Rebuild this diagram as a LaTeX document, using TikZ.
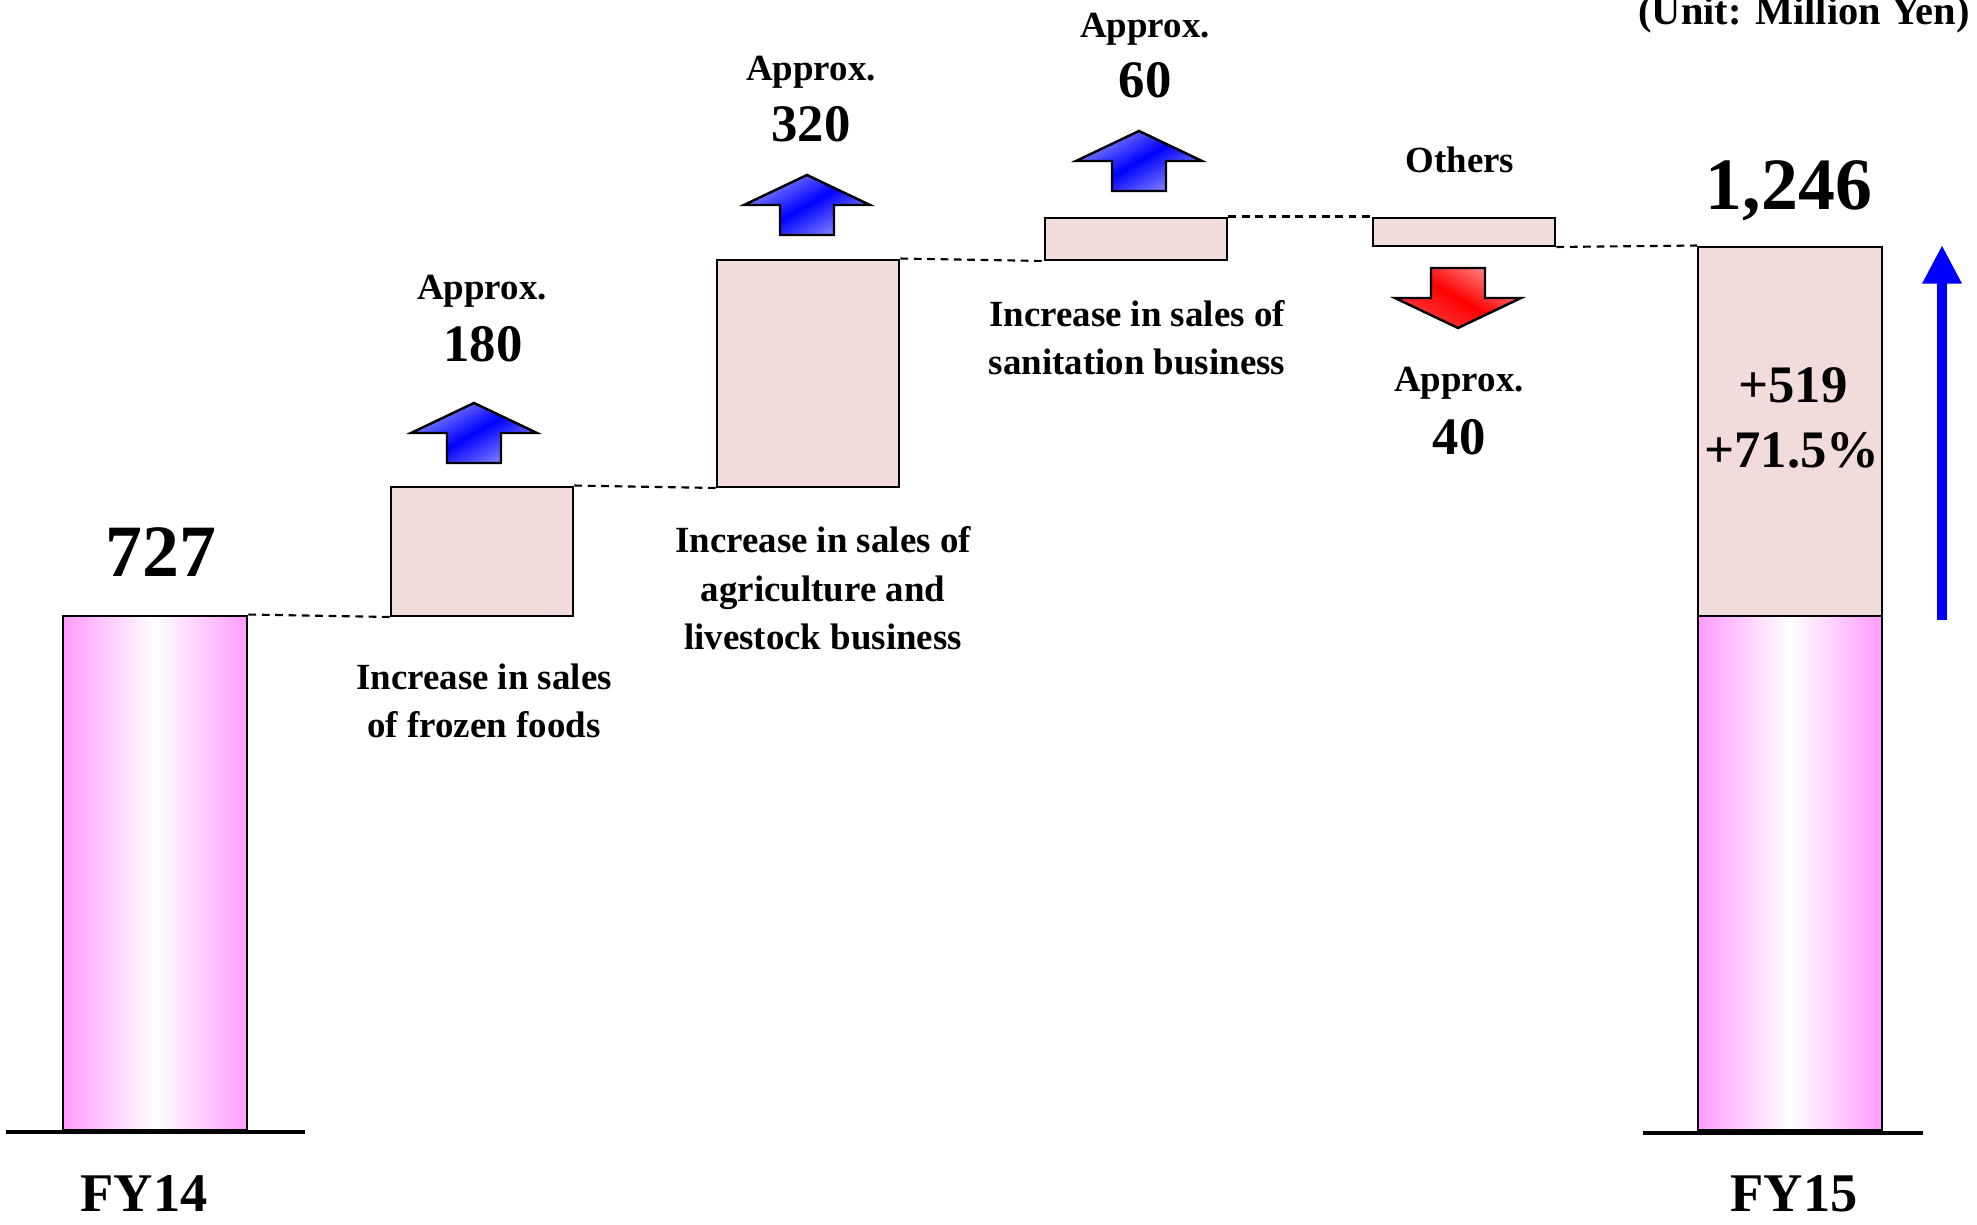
\documentclass[tikz,border=0pt]{standalone}
\usepackage{fontspec}
\setmainfont{Liberation Serif}
\usetikzlibrary{arrows.meta}
\definecolor{boxpink}{RGB}{242,220,219}
\definecolor{barpink}{RGB}{255,155,255}
\begin{document}
\begin{tikzpicture}[
   incbox/.style={draw, line width=.7pt, fill=boxpink, anchor=south west, inner sep=0, minimum width=1.82cm},
   basebar/.style={draw, line width=.7pt, left color=barpink, right color=barpink, middle color=white,
                   anchor=south west, inner sep=0, minimum width=1.84cm, minimum height=5.14cm},
   joinline/.style={dash pattern=on 2.2pt off 1.6pt, line width=.6pt},
   ground/.style={line width=1pt},
   upshade/.style={draw, line width=.7pt, top color=blue!45, bottom color=blue!45, middle color=blue, shading angle=30},
   downshade/.style={draw, line width=.7pt, top color=red!45, bottom color=red!75, middle color=red, shading angle=-30},
   growarrow/.style={blue, line width=2.8pt, -{Triangle[length=11pt,width=10.5pt]}},
   lbl/.style={font=\fontsize{10.5}{13.9}\selectfont\bfseries, align=center, anchor=base, inner sep=0},
   amt/.style={font=\fontsize{15}{18.4}\selectfont\bfseries, anchor=base, inner sep=0},
   total/.style={font=\fontsize{21}{25}\selectfont\bfseries, anchor=base, inner sep=0},
   fylbl/.style={font=\fontsize{15.5}{18}\selectfont\bfseries, anchor=base, inner sep=0}
]
   \useasboundingbox (0,0) rectangle (19.77,-12.25);

   % bars and steps
   \node[basebar] (fy14bar) at (0.62,-11.31) {};
   \node[basebar] (fy15bar) at (16.97,-11.31) {};
   \node[incbox, minimum width=1.84cm, minimum height=3.69cm] (fy15top) at (16.97,-6.17) {};
   \node[incbox, minimum height=1.29cm] (frozen) at (3.90,-6.17) {};
   \node[incbox, minimum height=2.27cm] (agri) at (7.16,-4.88) {};
   \node[incbox, minimum height=0.42cm] (sanit) at (10.44,-2.61) {};
   \node[incbox, minimum height=0.28cm] (others) at (13.72,-2.47) {};

   \draw[ground] (0.06,-11.32) -- (3.05,-11.32);
   \draw[ground] (16.43,-11.33) -- (19.23,-11.33);

   \draw[joinline] (fy14bar.north east) -- (frozen.south west);
   \draw[joinline] (frozen.north east) -- (agri.south west);
   \draw[joinline] (agri.north east) -- (sanit.south west);
   \draw[joinline] (sanit.north east) -- (others.north west);
   \draw[joinline] (others.south east) -- (fy15top.north west);

   % block arrows
   \foreach \x/\y/\d/\s in {4.74/-4.03/1/upshade, 8.07/-1.75/1/upshade, 11.39/-1.31/1/upshade, 14.58/-3.28/-1/downshade}
   \draw[\s] (\x,\y) -- ++(0.63,-0.30*\d) -- ++(-0.36,0) -- ++(0,-0.30*\d)
      -- ++(-0.54,0) -- ++(0,0.30*\d) -- ++(-0.36,0) -- cycle;

   \coordinate (growbot) at (19.42,-6.20);
   \coordinate (growtop) at (19.42,-2.45);
   \draw[growarrow] (growbot) -- (growtop);

   % texts
   \node[total] (t727) at (1.61,-5.77) {727};
   \node[total] (t1246) at (17.89,-2.10) {1,246};
   \node[fylbl] (fy14) at (1.44,-12.12) {FY14};
   \node[fylbl] (fy15) at (17.94,-12.12) {FY15};
   \node[lbl, font=\fontsize{11.5}{14}\selectfont\bfseries] (unit) at (18.04,-0.25) {(Unit: Million Yen)};

   \node[lbl] (apx1) at (4.82,-3.00) {Approx.};
   \node[amt] (amt1) at (4.83,-3.62) {180};
   \node[lbl] (apx2) at (8.11,-0.81) {Approx.};
   \node[amt] (amt2) at (8.11,-1.42) {320};
   \node[lbl] (apx3) at (11.45,-0.38) {Approx.};
   \node[amt] (amt3) at (11.45,-0.98) {60};
   \node[lbl] (oth) at (14.60,-1.73) {Others};
   \node[lbl] (apx4) at (14.59,-3.92) {Approx.};
   \node[amt] (amt4) at (14.59,-4.55) {40};

   \node[lbl] (cap1) at (4.84,-7.38) {Increase in sales\\of frozen foods};
   \node[lbl] (cap2) at (8.23,-6.50) {Increase in sales of\\agriculture and\\livestock business};
   \node[lbl] (cap3) at (11.37,-3.75) {Increase in sales of\\sanitation business};

   \node[amt] (chg1) at (17.93,-4.03) {+519};
   \node[amt] (chg2) at (17.92,-4.68) {+71.5\%};
\end{tikzpicture}
\end{document}
